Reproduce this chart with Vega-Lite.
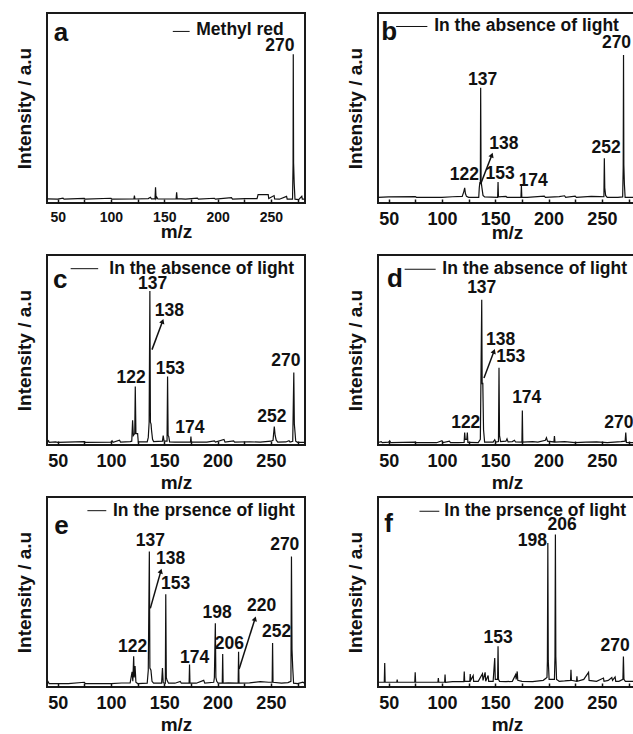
{
"$schema":"https://vega.github.io/schema/vega-lite/v6.json",
"padding":{"left":14,"top":12,"right":0,"bottom":0},
"background":"white",
"config":{
 "font":"Liberation Sans",
 "view":{"stroke":"#1a1a1a","strokeWidth":2},
 "axis":{"grid":false,"domain":false,"labelFont":"Liberation Sans","labelFontWeight":"bold","labelColor":"#111","titleFont":"Liberation Sans","titleFontWeight":"bold","titleColor":"#111","titleFontSize":19},
 "axisX":{"tickSize":-4,"tickColor":"#111","tickWidth":1.5,"labelFontSize":18,"labelPadding":11,"labelFlush":false,"labelOverlap":false},
 "axisY":{"ticks":false,"labels":false,"titlePadding":13},
 "text":{"font":"Liberation Sans","fontWeight":"bold","fill":"#111"},
 "rule":{"stroke":"#111"}
},
"datasets":{
 "sa":[{"mz":40,"i":2.2},{"mz":50,"i":2.0},{"mz":55,"i":2.6},{"mz":56,"i":2.0},{"mz":75,"i":2.4},{"mz":76,"i":2.0},{"mz":100,"i":2.5},{"mz":101,"i":2.0},{"mz":121.5,"i":2.1},{"mz":122,"i":3.9},{"mz":122.5,"i":2.1},{"mz":135,"i":2.3},{"mz":137,"i":3.0},{"mz":138,"i":2.2},{"mz":141.3,"i":2.2},{"mz":141.8,"i":8.3},{"mz":142.3,"i":2.3},{"mz":143,"i":3.0},{"mz":144,"i":2.1},{"mz":161.1,"i":2.2},{"mz":161.6,"i":5.6},{"mz":162.1,"i":2.3},{"mz":170,"i":2.0},{"mz":181,"i":2.6},{"mz":182,"i":2.0},{"mz":197,"i":2.5},{"mz":198,"i":2.0},{"mz":213,"i":2.8},{"mz":214,"i":2.0},{"mz":226,"i":2.3},{"mz":237,"i":2.3},{"mz":238,"i":4.4},{"mz":247.5,"i":4.4},{"mz":248,"i":2.3},{"mz":253,"i":3.9},{"mz":253.5,"i":2.2},{"mz":258,"i":2.0},{"mz":264.7,"i":3.5},{"mz":265.3,"i":2.0},{"mz":270.3,"i":2.0},{"mz":270.8,"i":20},{"mz":271,"i":78.3},{"mz":271.3,"i":21},{"mz":271.9,"i":10},{"mz":272.6,"i":2.0},{"mz":276,"i":1.8},{"mz":279,"i":3.5},{"mz":279.5,"i":2.0},{"mz":282,"i":2.0}],
 "sb":[{"mz":40,"i":3.0},{"mz":50,"i":3.2},{"mz":75,"i":3.4},{"mz":76,"i":3.0},{"mz":100,"i":3.0},{"mz":110,"i":3.3},{"mz":119,"i":3.5},{"mz":120.5,"i":6},{"mz":121.3,"i":8},{"mz":122,"i":5},{"mz":123,"i":3.5},{"mz":125,"i":3.0},{"mz":134.5,"i":3.0},{"mz":135,"i":8},{"mz":135.6,"i":11},{"mz":136,"i":10},{"mz":136.3,"i":60.7},{"mz":136.7,"i":11.5},{"mz":137.5,"i":8},{"mz":138.5,"i":4},{"mz":140,"i":3.2},{"mz":152.2,"i":3},{"mz":152.6,"i":11},{"mz":153,"i":3.2},{"mz":160,"i":3.5},{"mz":161,"i":3},{"mz":174.1,"i":3},{"mz":174.5,"i":9.2},{"mz":174.9,"i":3},{"mz":180,"i":3},{"mz":196,"i":3.6},{"mz":197,"i":3},{"mz":210,"i":3.4},{"mz":215,"i":3.8},{"mz":216,"i":3},{"mz":225,"i":3.6},{"mz":226,"i":3},{"mz":240,"i":3.5},{"mz":248,"i":3.4},{"mz":251.9,"i":3.3},{"mz":252.3,"i":23.5},{"mz":252.7,"i":8},{"mz":253.5,"i":4},{"mz":255,"i":3},{"mz":265,"i":3},{"mz":269.5,"i":3.2},{"mz":270,"i":19},{"mz":270.3,"i":77.9},{"mz":270.6,"i":20},{"mz":271.1,"i":10},{"mz":271.8,"i":3},{"mz":276,"i":3},{"mz":282,"i":3}],
 "sc":[{"mz":40,"i":1.5},{"mz":41.5,"i":2.2},{"mz":42,"i":1.4},{"mz":48,"i":1.6},{"mz":50,"i":1.4},{"mz":75,"i":1.8},{"mz":76,"i":1.4},{"mz":100,"i":1.5},{"mz":101,"i":2.2},{"mz":102,"i":1.4},{"mz":108,"i":2.5},{"mz":109,"i":1.5},{"mz":118,"i":1.8},{"mz":119.5,"i":2},{"mz":120.3,"i":13},{"mz":121,"i":5},{"mz":122.3,"i":6},{"mz":122.8,"i":30.8},{"mz":123.4,"i":6},{"mz":125,"i":6},{"mz":125.6,"i":1.6},{"mz":134,"i":1.6},{"mz":135,"i":4},{"mz":135.8,"i":12},{"mz":136.5,"i":81},{"mz":137,"i":12},{"mz":137.6,"i":11},{"mz":138,"i":8},{"mz":139,"i":3},{"mz":140,"i":1.8},{"mz":148.3,"i":2},{"mz":149,"i":5},{"mz":149.8,"i":2},{"mz":152.6,"i":2},{"mz":153.1,"i":36},{"mz":153.6,"i":5},{"mz":154.2,"i":4.5},{"mz":155,"i":1.6},{"mz":160,"i":1.5},{"mz":174.6,"i":1.6},{"mz":175,"i":4.4},{"mz":175.4,"i":1.6},{"mz":190,"i":1.5},{"mz":197,"i":2.2},{"mz":198,"i":1.5},{"mz":206,"i":2.9},{"mz":207,"i":1.5},{"mz":215,"i":2.2},{"mz":216,"i":1.5},{"mz":230,"i":1.7},{"mz":240,"i":1.5},{"mz":250,"i":2.0},{"mz":252,"i":2.5},{"mz":253.2,"i":9.7},{"mz":254,"i":5},{"mz":255,"i":2.5},{"mz":256.5,"i":1.5},{"mz":264,"i":1.6},{"mz":267,"i":2.3},{"mz":268,"i":1.5},{"mz":270.5,"i":2.0},{"mz":271.5,"i":38.2},{"mz":272,"i":11},{"mz":272.6,"i":7},{"mz":273.3,"i":2},{"mz":275,"i":1.4},{"mz":279,"i":1.4},{"mz":282,"i":1.4}],
 "sd":[{"mz":40,"i":1.3},{"mz":43,"i":1.8},{"mz":44,"i":1.2},{"mz":50,"i":1.5},{"mz":51,"i":2.2},{"mz":52,"i":1.2},{"mz":75,"i":1.5},{"mz":76,"i":1.2},{"mz":95,"i":1.2},{"mz":100,"i":2.3},{"mz":101,"i":1.3},{"mz":107,"i":2.0},{"mz":108,"i":1.3},{"mz":115,"i":1.3},{"mz":120.8,"i":1.4},{"mz":121.3,"i":6.5},{"mz":121.8,"i":3},{"mz":123.3,"i":3},{"mz":123.8,"i":6.5},{"mz":124.3,"i":1.4},{"mz":125,"i":1.4},{"mz":134,"i":1.3},{"mz":136,"i":3},{"mz":137.3,"i":76.4},{"mz":137.7,"i":32},{"mz":138.3,"i":32.7},{"mz":139,"i":8},{"mz":140,"i":1.5},{"mz":148,"i":1.5},{"mz":149.5,"i":2.8},{"mz":150.5,"i":1.5},{"mz":153,"i":1.8},{"mz":153.5,"i":40.6},{"mz":154,"i":5},{"mz":155,"i":1.8},{"mz":160,"i":2.0},{"mz":161,"i":3.2},{"mz":162,"i":1.6},{"mz":166,"i":1.8},{"mz":168,"i":2.5},{"mz":169,"i":1.6},{"mz":175,"i":1.5},{"mz":175.4,"i":18.2},{"mz":175.8,"i":1.5},{"mz":185,"i":1.8},{"mz":190,"i":1.5},{"mz":197,"i":2.5},{"mz":198,"i":3.8},{"mz":199,"i":2},{"mz":205,"i":1.6},{"mz":205.5,"i":4.7},{"mz":206,"i":1.5},{"mz":215,"i":1.8},{"mz":225,"i":1.3},{"mz":235,"i":1.5},{"mz":245,"i":1.6},{"mz":255,"i":1.3},{"mz":268,"i":1.8},{"mz":271.8,"i":2.0},{"mz":272.4,"i":6.5},{"mz":273,"i":1.4},{"mz":276,"i":1.3},{"mz":282,"i":1.3}],
 "se":[{"mz":40,"i":1.8},{"mz":41,"i":2.8},{"mz":42,"i":1.8},{"mz":50,"i":1.8},{"mz":60,"i":1.8},{"mz":75,"i":2.5},{"mz":76,"i":1.8},{"mz":100,"i":1.8},{"mz":110,"i":2.1},{"mz":118,"i":2.2},{"mz":119.8,"i":8},{"mz":120.5,"i":3},{"mz":121.3,"i":16.2},{"mz":121.8,"i":5},{"mz":122.6,"i":11},{"mz":123.4,"i":2.5},{"mz":125,"i":1.8},{"mz":134,"i":2},{"mz":135,"i":8.8},{"mz":136,"i":71.3},{"mz":136.5,"i":10},{"mz":137.5,"i":8.8},{"mz":138.5,"i":3},{"mz":140,"i":2},{"mz":147.5,"i":2},{"mz":148.3,"i":10},{"mz":149,"i":2.2},{"mz":151,"i":2},{"mz":151.4,"i":48.8},{"mz":151.9,"i":5},{"mz":152.6,"i":3.5},{"mz":154,"i":2},{"mz":160,"i":2},{"mz":165,"i":2.9},{"mz":166,"i":2},{"mz":173.3,"i":2},{"mz":173.7,"i":11.8},{"mz":174.1,"i":2},{"mz":180,"i":2},{"mz":187,"i":3.5},{"mz":188,"i":2},{"mz":196.4,"i":2.5},{"mz":197,"i":5},{"mz":197.9,"i":33.5},{"mz":198.4,"i":5},{"mz":199.2,"i":3},{"mz":200.5,"i":2},{"mz":204.4,"i":2},{"mz":204.8,"i":17.3},{"mz":205.2,"i":2},{"mz":210,"i":2.2},{"mz":219.3,"i":2},{"mz":219.7,"i":18.5},{"mz":220.1,"i":2},{"mz":230,"i":2.2},{"mz":240,"i":2.8},{"mz":248,"i":2.5},{"mz":251.2,"i":2.5},{"mz":251.6,"i":23.2},{"mz":252,"i":2.5},{"mz":260,"i":2},{"mz":266,"i":2.3},{"mz":268.8,"i":3},{"mz":269.3,"i":68.7},{"mz":269.8,"i":20},{"mz":270.5,"i":10},{"mz":271.3,"i":2},{"mz":275,"i":1.8},{"mz":280,"i":2.5},{"mz":282,"i":1.8}],
 "sf":[{"mz":40,"i":2.5},{"mz":45.9,"i":2.5},{"mz":46.3,"i":12.6},{"mz":46.7,"i":2.5},{"mz":57.6,"i":2.5},{"mz":58,"i":3.9},{"mz":58.4,"i":2.5},{"mz":74.5,"i":2.5},{"mz":74.9,"i":7.7},{"mz":75.3,"i":2.5},{"mz":90,"i":2.5},{"mz":96.2,"i":2.5},{"mz":96.6,"i":4.7},{"mz":97,"i":2.5},{"mz":102.5,"i":2.5},{"mz":102.9,"i":6.5},{"mz":103.3,"i":2.5},{"mz":110,"i":2.8},{"mz":120.5,"i":2.8},{"mz":120.9,"i":8.2},{"mz":121.3,"i":3},{"mz":126.1,"i":3},{"mz":126.5,"i":6.8},{"mz":126.9,"i":3.5},{"mz":129.3,"i":6},{"mz":129.7,"i":3},{"mz":134,"i":3},{"mz":138,"i":7},{"mz":138.5,"i":3.5},{"mz":140.5,"i":7.7},{"mz":141,"i":3},{"mz":143.3,"i":6},{"mz":143.8,"i":3},{"mz":148,"i":3},{"mz":149.5,"i":15.3},{"mz":150,"i":4},{"mz":152.2,"i":4},{"mz":152.6,"i":21.4},{"mz":153,"i":4},{"mz":154,"i":3},{"mz":160,"i":2.8},{"mz":166,"i":3},{"mz":169.1,"i":6.5},{"mz":169.6,"i":4},{"mz":170.6,"i":8.2},{"mz":171.1,"i":3.5},{"mz":175,"i":3},{"mz":185,"i":2.8},{"mz":195,"i":3.5},{"mz":198.5,"i":5},{"mz":198.9,"i":14},{"mz":199.3,"i":75.8},{"mz":199.7,"i":14},{"mz":200.5,"i":4},{"mz":205.5,"i":4},{"mz":206,"i":16},{"mz":206.4,"i":80.2},{"mz":206.8,"i":16},{"mz":207.5,"i":4},{"mz":210,"i":3},{"mz":215,"i":3.2},{"mz":220.6,"i":3.5},{"mz":221,"i":9.1},{"mz":221.4,"i":3.5},{"mz":226.2,"i":3},{"mz":226.6,"i":5.6},{"mz":227,"i":3},{"mz":233,"i":4},{"mz":237.5,"i":7.7},{"mz":238,"i":3.5},{"mz":245,"i":3},{"mz":251.5,"i":4.7},{"mz":252,"i":3},{"mz":256,"i":3.5},{"mz":259.3,"i":5},{"mz":260,"i":3.5},{"mz":262.4,"i":5.3},{"mz":263,"i":3},{"mz":266,"i":3},{"mz":269.7,"i":4},{"mz":270.2,"i":16.1},{"mz":270.7,"i":4},{"mz":272,"i":3},{"mz":276,"i":3},{"mz":282,"i":3}],
 "la":[{"mz":258.4,"i":82.7,"t":"270"}],
 "lb":[{"mz":138.2,"i":65,"t":"137"},{"mz":158,"i":31,"t":"138"},{"mz":121,"i":14.7,"t":"122"},{"mz":154.5,"i":15.4,"t":"153"},{"mz":185.6,"i":11.5,"t":"174"},{"mz":254,"i":29.2,"t":"252"},{"mz":263.7,"i":84,"t":"270"}],
 "lc":[{"mz":139,"i":84.5,"t":"137"},{"mz":154.7,"i":70.4,"t":"138"},{"mz":118.8,"i":35.2,"t":"122"},{"mz":155.6,"i":40,"t":"153"},{"mz":174.1,"i":9.2,"t":"174"},{"mz":251,"i":14.6,"t":"252"},{"mz":264,"i":44,"t":"270"}],
 "ld":[{"mz":137.3,"i":82.5,"t":"137"},{"mz":155.1,"i":55.4,"t":"138"},{"mz":164.5,"i":46.2,"t":"153"},{"mz":179.5,"i":24.5,"t":"174"},{"mz":122.3,"i":11.7,"t":"122"},{"mz":266,"i":11.7,"t":"270"}],
 "le":[{"mz":136.9,"i":77,"t":"137"},{"mz":156,"i":67.3,"t":"138"},{"mz":160.7,"i":54,"t":"153"},{"mz":199.5,"i":39,"t":"198"},{"mz":211,"i":22.4,"t":"206"},{"mz":241.4,"i":42.6,"t":"220"},{"mz":255.3,"i":29,"t":"252"},{"mz":263,"i":75,"t":"270"},{"mz":178.4,"i":15.3,"t":"174"},{"mz":120.4,"i":21,"t":"122"}],
 "lf":[{"mz":152.6,"i":25.8,"t":"153"},{"mz":184.7,"i":76.7,"t":"198"},{"mz":212.7,"i":85.4,"t":"206"},{"mz":262.4,"i":21.4,"t":"270"}]
},
"columns":2,
"spacing":{"row":52,"column":73},
"bounds":"flush",
"concat":[
  {"width":258,"height":190,
   "encoding":{
    "x":{"field":"mz","type":"quantitative","scale":{"domain":[40,282],"nice":false,"zero":false},"axis":{"title":"m/z","values":[50,75,100,125,150,175,200,225,250,275],"labelExpr":"datum.value % 50 === 0 ? datum.label : ''","labelFontSize":14,"titlePadding":-2}},
    "y":{"field":"i","type":"quantitative","scale":{"domain":[0,100],"nice":false},"axis":{"title":"Intensity / a.u"}}},
   "layer":[
    {"data":{"name":"sa"},"mark":{"type":"line","clip":true,"stroke":"#111","strokeWidth":1.2}},
    {"data":{"name":"la"},"mark":{"type":"text","fontSize":17.5},"encoding":{"text":{"field":"t"}}},
    {"data":{"values":[{"mz":53.2,"i":89.5,"t":"a"}]},"mark":{"type":"text","fontSize":26},"encoding":{"text":{"field":"t"}}},
    {"data":{"values":[{"mz":158,"i":90.3,"mz2":173.8}]},"mark":{"type":"rule","strokeWidth":1},"encoding":{"x2":{"field":"mz2"}}},
    {"data":{"values":[{"mz":180,"i":91,"t":"Methyl red"}]},"mark":{"type":"text","align":"left","fontSize":17.5},"encoding":{"text":{"field":"t"}}}
   ]},
  {"width":258,"height":190,
   "encoding":{
    "x":{"field":"mz","type":"quantitative","scale":{"domain":[40,282],"nice":false,"zero":false},"axis":{"title":"m/z","values":[50,75,100,125,150,175,200,225,250,275],"labelExpr":"datum.value % 50 === 0 ? datum.label : ''","titlePadding":-5}},
    "y":{"field":"i","type":"quantitative","scale":{"domain":[0,100],"nice":false},"axis":{"title":"Intensity / a.u"}}},
   "layer":[
    {"data":{"name":"sb"},"mark":{"type":"line","clip":true,"stroke":"#111","strokeWidth":1.2}},
    {"data":{"name":"lb"},"mark":{"type":"text","fontSize":17.5},"encoding":{"text":{"field":"t"}}},
    {"data":{"values":[{"mz":50.6,"i":90,"t":"b"}]},"mark":{"type":"text","fontSize":26},"encoding":{"text":{"field":"t"}}},
    {"data":{"values":[{"mz":57,"i":92.9,"mz2":86.3}]},"mark":{"type":"rule","strokeWidth":1},"encoding":{"x2":{"field":"mz2"}}},
    {"data":{"values":[{"mz":92.7,"i":92.9,"t":"In the absence of light"}]},"mark":{"type":"text","align":"left","fontSize":17.5},"encoding":{"text":{"field":"t"}}},
    {"data":{"values":[{"mz":136.3,"i":10,"mz2":146.8,"i2":25.3}]},"mark":{"type":"rule","strokeWidth":1.5},"encoding":{"x2":{"field":"mz2"},"y2":{"field":"i2"}}},
    {"data":{"values":[{"mz":146.8,"i":25.3}]},"mark":{"type":"point","shape":"triangle-up","filled":true,"size":30,"angle":21,"color":"#111","opacity":1}}
   ]},
   {"width":258,"height":190,
    "encoding":{
     "x":{"field":"mz","type":"quantitative","scale":{"domain":[40,282],"nice":false,"zero":false},"axis":{"title":"m/z","values":[50,75,100,125,150,175,200,225,250,275],"labelExpr":"datum.value % 50 === 0 ? datum.label : ''","titlePadding":3}},
     "y":{"field":"i","type":"quantitative","scale":{"domain":[0,100],"nice":false},"axis":{"title":"Intensity / a.u"}}},
    "layer":[
     {"data":{"name":"sc"},"mark":{"type":"line","clip":true,"stroke":"#111","strokeWidth":1.2}},
     {"data":{"name":"lc"},"mark":{"type":"text","fontSize":17.5},"encoding":{"text":{"field":"t"}}},
     {"data":{"values":[{"mz":52.5,"i":87,"t":"c"}]},"mark":{"type":"text","fontSize":26},"encoding":{"text":{"field":"t"}}},
     {"data":{"values":[{"mz":62.2,"i":92.8,"mz2":88}]},"mark":{"type":"rule","strokeWidth":1},"encoding":{"x2":{"field":"mz2"}}},
     {"data":{"values":[{"mz":98.5,"i":92.8,"t":"In the absence of light"}]},"mark":{"type":"text","align":"left","fontSize":17.5},"encoding":{"text":{"field":"t"}}},
     {"data":{"values":[{"mz":138.5,"i":50.2,"mz2":148.4,"i2":65.1}]},"mark":{"type":"rule","strokeWidth":1.5},"encoding":{"x2":{"field":"mz2"},"y2":{"field":"i2"}}},
     {"data":{"values":[{"mz":148.4,"i":65.1}]},"mark":{"type":"point","shape":"triangle-up","filled":true,"size":30,"angle":20,"color":"#111","opacity":1}}
    ]},
   {"width":258,"height":190,
    "encoding":{
     "x":{"field":"mz","type":"quantitative","scale":{"domain":[40,282],"nice":false,"zero":false},"axis":{"title":"m/z","values":[50,75,100,125,150,175,200,225,250,275],"labelExpr":"datum.value % 50 === 0 ? datum.label : ''","titlePadding":3}},
     "y":{"field":"i","type":"quantitative","scale":{"domain":[0,100],"nice":false},"axis":{"title":"Intensity / a.u"}}},
    "layer":[
     {"data":{"name":"sd"},"mark":{"type":"line","clip":true,"stroke":"#111","strokeWidth":1.2}},
     {"data":{"name":"ld"},"mark":{"type":"text","fontSize":17.5},"encoding":{"text":{"field":"t"}}},
     {"data":{"values":[{"mz":56,"i":87.5,"t":"d"}]},"mark":{"type":"text","fontSize":26},"encoding":{"text":{"field":"t"}}},
     {"data":{"values":[{"mz":65,"i":92.5,"mz2":94.1}]},"mark":{"type":"rule","strokeWidth":1},"encoding":{"x2":{"field":"mz2"}}},
     {"data":{"values":[{"mz":100.3,"i":92.5,"t":"In the absence of light"}]},"mark":{"type":"text","align":"left","fontSize":17.5},"encoding":{"text":{"field":"t"}}},
     {"data":{"values":[{"mz":139.4,"i":35.3,"mz2":148.8,"i2":49.3}]},"mark":{"type":"rule","strokeWidth":1.5},"encoding":{"x2":{"field":"mz2"},"y2":{"field":"i2"}}},
     {"data":{"values":[{"mz":148.8,"i":49.3}]},"mark":{"type":"point","shape":"triangle-up","filled":true,"size":30,"angle":20,"color":"#111","opacity":1}}
    ]},
   {"width":258,"height":190,
    "encoding":{
     "x":{"field":"mz","type":"quantitative","scale":{"domain":[40,282],"nice":false,"zero":false},"axis":{"title":"m/z","values":[50,75,100,125,150,175,200,225,250,275],"labelExpr":"datum.value % 50 === 0 ? datum.label : ''","titlePadding":3}},
     "y":{"field":"i","type":"quantitative","scale":{"domain":[0,100],"nice":false},"axis":{"title":"Intensity / a.u"}}},
    "layer":[
     {"data":{"name":"se"},"mark":{"type":"line","clip":true,"stroke":"#111","strokeWidth":1.2}},
     {"data":{"name":"le"},"mark":{"type":"text","fontSize":17.5},"encoding":{"text":{"field":"t"}}},
     {"data":{"values":[{"mz":53.7,"i":85,"t":"e"}]},"mark":{"type":"text","fontSize":26},"encoding":{"text":{"field":"t"}}},
     {"data":{"values":[{"mz":77.9,"i":92.8,"mz2":95.6}]},"mark":{"type":"rule","strokeWidth":1},"encoding":{"x2":{"field":"mz2"}}},
     {"data":{"values":[{"mz":101.8,"i":92.8,"t":"In the prsence of light"}]},"mark":{"type":"text","align":"left","fontSize":17.5},"encoding":{"text":{"field":"t"}}},
     {"data":{"values":[{"mz":136.9,"i":41.4,"mz2":146.8,"i2":61},{"mz":220.2,"i":9.5,"mz2":235.1,"i2":35.9}]},"mark":{"type":"rule","strokeWidth":1.5},"encoding":{"x2":{"field":"mz2"},"y2":{"field":"i2"}}},
     {"data":{"values":[{"mz":146.8,"i":61},{"mz":235.1,"i":35.9}]},"mark":{"type":"point","shape":"triangle-up","filled":true,"size":30,"angle":17,"color":"#111","opacity":1}}
    ]},
   {"width":258,"height":190,
    "encoding":{
     "x":{"field":"mz","type":"quantitative","scale":{"domain":[40,282],"nice":false,"zero":false},"axis":{"title":"m/z","values":[50,75,100,125,150,175,200,225,250,275],"labelExpr":"datum.value % 50 === 0 ? datum.label : ''","titlePadding":3}},
     "y":{"field":"i","type":"quantitative","scale":{"domain":[0,100],"nice":false},"axis":{"title":"Intensity / a.u"}}},
    "layer":[
     {"data":{"name":"sf"},"mark":{"type":"line","clip":true,"stroke":"#111","strokeWidth":1.2}},
     {"data":{"name":"lf"},"mark":{"type":"text","fontSize":17.5},"encoding":{"text":{"field":"t"}}},
     {"data":{"values":[{"mz":50,"i":86,"t":"f"}]},"mark":{"type":"text","fontSize":26},"encoding":{"text":{"field":"t"}}},
     {"data":{"values":[{"mz":78.9,"i":92.5,"mz2":97.5}]},"mark":{"type":"rule","strokeWidth":1},"encoding":{"x2":{"field":"mz2"}}},
     {"data":{"values":[{"mz":102.2,"i":92.5,"t":"In the prsence of light"}]},"mark":{"type":"text","align":"left","fontSize":17.5},"encoding":{"text":{"field":"t"}}}
    ]}
]
}
